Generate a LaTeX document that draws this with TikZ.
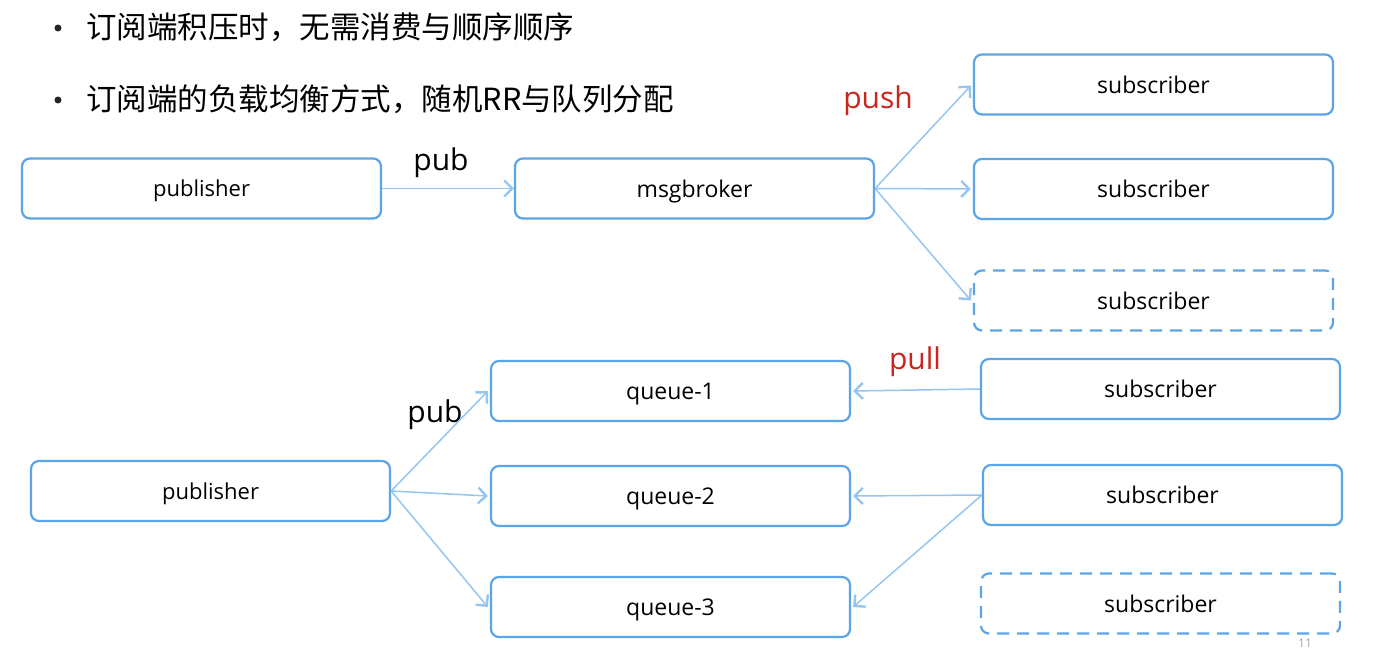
\documentclass[tikz,border=0pt]{standalone}
\usepackage{fontspec}
\setmainfont{Open Sans}
\newfontfamily\cjk{Noto Sans CJK SC}
\usetikzlibrary{arrows.meta}
\definecolor{boxc}{HTML}{5BA4E5}
\definecolor{edgec}{HTML}{96C6F0}
\definecolor{redc}{HTML}{C8261E}
\tikzset{
  box/.style={draw=boxc, line width=2.2pt, rounded corners=8pt, minimum width=359pt, minimum height=60pt, inner sep=0pt, text depth=0pt, font=\fontsize{22}{26}\selectfont},
  dbox/.style={box, dashed, dash pattern=on 12pt off 8pt},
  conn/.style={draw=edgec, line width=1.5pt, -{Straight Barb[length=8pt,width=16pt,line width=2.4pt]}},
  lbl/.style={font=\fontsize{30}{34}\selectfont, inner sep=0pt},
  bul/.style={font=\cjk\fontsize{30.5}{34}\selectfont, anchor=west, inner sep=0pt},
}
\begin{document}
\begin{tikzpicture}[x=1pt,y=-1pt]
\useasboundingbox[fill=white] (0,0) rectangle (1388,648);
% bullets
\node[circle, fill=black!85, inner sep=0pt, minimum size=7pt] (d1) at (58,28) {};
\node[circle, fill=black!85, inner sep=0pt, minimum size=7pt] (d2) at (58,100) {};
\node[bul] (b1) at (86,27) {订阅端积压时，无需消费与顺序顺序};
\node[bul] (b2) at (86,99) {订阅端的负载均衡方式，随机RR与队列分配};
% top
\node[box] (pub1) at (201.5,188.5) {publisher};
\node[box, font=\fontsize{23}{26}\selectfont] (mb) at (694.5,188.5) {msgbroker};
\node[box, font=\fontsize{23}{26}\selectfont] (s1) at (1153.5,84.5) {subscriber};
\node[box, font=\fontsize{23}{26}\selectfont] (s2) at (1153.5,189) {subscriber};
\node[dbox, font=\fontsize{23}{26}\selectfont] (s3) at (1153.5,300.5) {subscriber};
\draw[conn] (pub1.east) -- (mb.west);
\node[lbl] (lpub1) at (441,163) {pub};
\node[lbl, text=redc] (lpush) at (878,101) {push};
\draw[conn] (mb.east) -- ([xshift=-2pt,yshift=-1pt]s1.west);
\draw[conn] (mb.east) -- ([xshift=-2pt]s2.west);
\draw[conn] (mb.east) -- ([xshift=-2pt]s3.west);
% bottom
\node[box] (pub2) at (210.5,491) {publisher};
\node[box, font=\fontsize{23}{26}\selectfont] (q1) at (670.5,391) {queue-1};
\node[box, font=\fontsize{23}{26}\selectfont] (q2) at (670.5,496) {queue-2};
\node[box, font=\fontsize{23}{26}\selectfont] (q3) at (670.5,607) {queue-3};
\node[box, font=\fontsize{23}{26}\selectfont] (t1) at (1160.5,389) {subscriber};
\node[box, font=\fontsize{23}{26}\selectfont] (t2) at (1162.5,495) {subscriber};
\node[dbox, font=\fontsize{23}{26}\selectfont] (t3) at (1160.5,603.5) {subscriber};
\node[lbl] (lpub2) at (435,415) {pub};
\node[lbl, text=redc] (lpull) at (915,362) {pull};
\draw[conn] (pub2.east) -- ([xshift=-2pt]q1.west);
\draw[conn] (pub2.east) -- ([xshift=-2pt]q2.west);
\draw[conn] (pub2.east) -- ([xshift=-2pt]q3.west);
\draw[conn] (t1.west) -- ([xshift=2pt]q1.east);
\draw[conn] (t2.west) -- ([xshift=2pt]q2.east);
\draw[conn] (t2.west) -- ([xshift=2pt]q3.east);
\node[font=\fontsize{12}{14}\selectfont, text=gray!70, inner sep=0pt] (pg) at (1305,643) {11};
\end{tikzpicture}
\end{document}
